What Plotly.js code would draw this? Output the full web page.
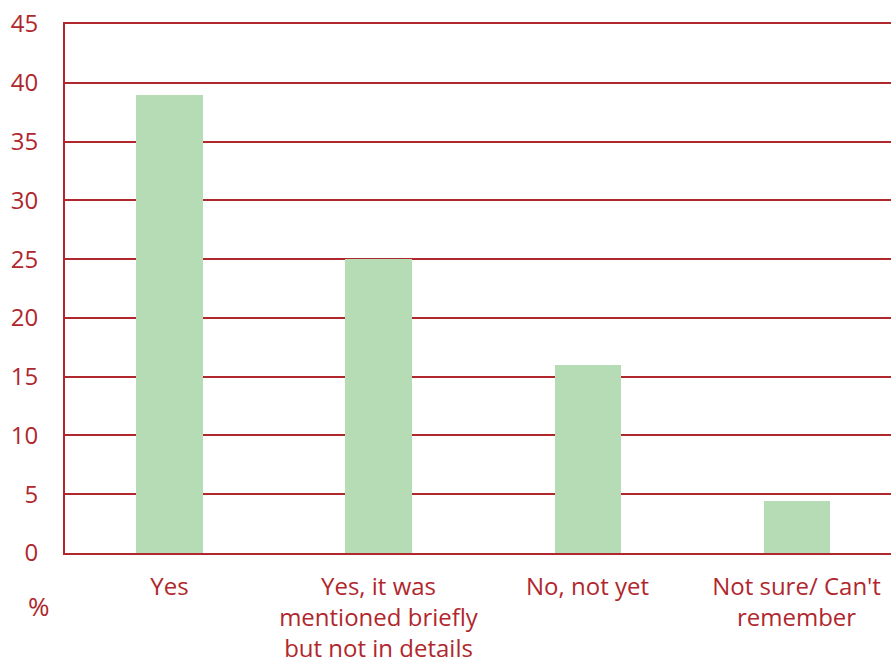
<!DOCTYPE html>
<html>
<head>
<meta charset="utf-8">
<script src="https://cdn.plot.ly/plotly-3.0.1.min.js"></script>
<style>html,body{margin:0;padding:0;background:#fff;}#chart{width:891px;height:663px;}</style>
</head>
<body>
<div id="chart"></div>
<script>
const categories = ["Yes", "Yes, it was<br>mentioned briefly<br>but not in details", "No, not yet", "Not sure/ Can't<br>remember"];
const values = [39, 25, 16, 4.4];
const yTicks = [0, 5, 10, 15, 20, 25, 30, 35, 40, 45];
const unitLabel = "%";

const red = "#b0272d";
const font = {family: "Open Sans, Noto Sans, sans-serif", size: 24, color: red};

const trace = {
  type: "bar",
  x: [0, 1, 2, 3],
  y: values,
  width: 0.316,
  marker: {color: "#b6dcb5", line: {width: 0}},
  hoverinfo: "skip"
};

const layout = {
  width: 891, height: 663,
  margin: {l: 65, r: 0, t: 24, b: 110},
  paper_bgcolor: "#fff", plot_bgcolor: "#fff",
  showlegend: false,
  font: font,
  bargap: 0,
  xaxis: {
    range: [-0.5, 3.452],
    tickmode: "array",
    tickvals: [0, 1, 2, 3],
    ticktext: categories,
    showgrid: false,
    zeroline: false,
    showline: true,
    mirror: true,
    linecolor: red,
    linewidth: 2,
    ticks: "",
    tickfont: font,
    ticklabelstandoff: 11
  },
  yaxis: {
    range: [0, 45],
    tickmode: "array",
    tickvals: yTicks,
    ticktext: yTicks.map(String),
    showgrid: true,
    gridcolor: red,
    gridwidth: 2,
    zeroline: false,
    showline: true,
    linecolor: red,
    linewidth: 2,
    ticks: "",
    tickfont: font,
    ticklabelstandoff: 20
  },
  annotations: [{
    text: unitLabel,
    xref: "paper", yref: "paper",
    x: -0.032, y: -0.1,
    xanchor: "center", yanchor: "middle",
    showarrow: false,
    font: {family: font.family, size: 26, color: red}
  }]
};

Plotly.newPlot("chart", [trace], layout, {displayModeBar: false, staticPlot: true});
</script>
</body>
</html>
